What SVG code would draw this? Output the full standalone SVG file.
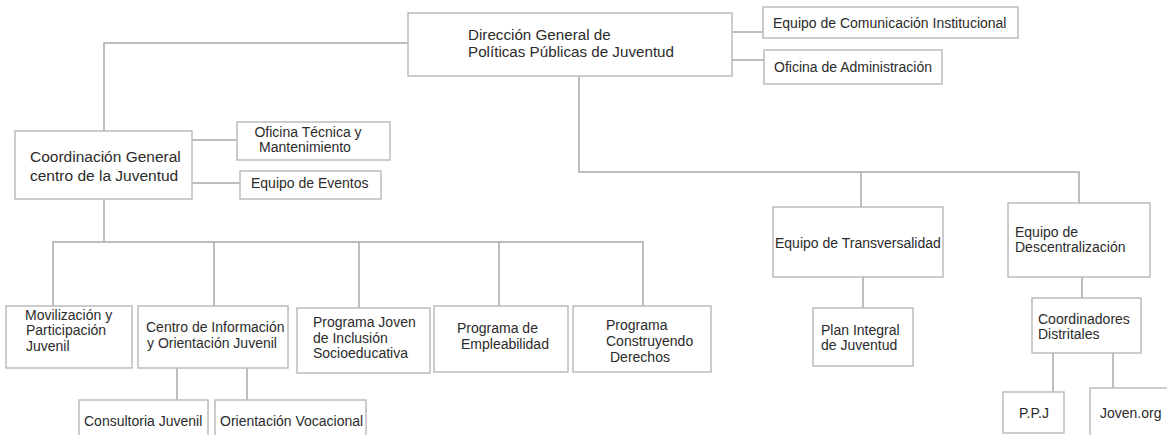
<svg xmlns="http://www.w3.org/2000/svg" width="1167" height="435" viewBox="0 0 1167 435">
<style>
.box{fill:#fff;stroke:#bcbcbc;stroke-width:1.5}
.ln{fill:none;stroke:#a8a8a8;stroke-width:1.5}
text{font-family:"Liberation Sans",Arial,sans-serif;font-size:14px;fill:#2b2b2b}
.big{font-size:15.2px}
.big2{font-size:15.5px}
.mid{text-anchor:middle}
</style>
<rect width="1167" height="435" fill="#fff"/>
<g id="connectors">
<path class="ln" d="M104 131V43H408"/>
<path class="ln" d="M579 76V172H1079V203"/>
<path class="ln" d="M861 172V207"/>
<path class="ln" d="M732 32H763"/>
<path class="ln" d="M732 60H764"/>
<path class="ln" d="M192 140H237"/>
<path class="ln" d="M192 183H240"/>
<path class="ln" d="M104 199V242"/>
<path class="ln" d="M53 306V242H643V306"/>
<path class="ln" d="M214 242V306"/>
<path class="ln" d="M359 242V308"/>
<path class="ln" d="M499 242V306"/>
<path class="ln" d="M177 368V400"/>
<path class="ln" d="M247 368V400"/>
<path class="ln" d="M863 277V308"/>
<path class="ln" d="M1082 277V298"/>
<path class="ln" d="M1053 353V392"/>
<path class="ln" d="M1113 353V388"/>
</g>
<g id="direccion"><rect class="box" x="408" y="13" width="324" height="63"/><text class="big" x="468" y="40">Dirección General de</text><text class="big" x="468" y="57">Políticas Públicas de Juventud</text></g>
<g id="comunicacion"><rect class="box" x="763" y="7" width="255" height="31"/><text x="773" y="28">Equipo de Comunicación Institucional</text></g>
<g id="administracion"><rect class="box" x="764" y="50" width="178" height="34"/><text x="774" y="72">Oficina de Administración</text></g>
<g id="coordinacion"><rect class="box" x="15" y="131" width="177" height="68"/><text class="big2" x="30" y="162">Coordinación General</text><text class="big2" x="30" y="181">centro de la Juventud</text></g>
<g id="oficina-tecnica"><rect class="box" x="237" y="122" width="153" height="38"/><text class="mid" x="308" y="137">Oficina Técnica y</text><text class="mid" x="305" y="152">Mantenimiento</text></g>
<g id="eventos"><rect class="box" x="240" y="171" width="141" height="28"/><text x="251" y="188">Equipo de Eventos</text></g>
<g id="movilizacion"><rect class="box" x="6" y="306" width="126" height="62"/><text x="25" y="320">Movilización y</text><text x="26" y="335">Participación</text><text x="26" y="351">Juvenil</text></g>
<g id="centro-info"><rect class="box" x="138" y="306" width="150" height="62"/><text x="146" y="332">Centro de Información</text><text x="147" y="348">y Orientación Juvenil</text></g>
<g id="consultoria"><rect class="box" x="79" y="400" width="129" height="45"/><text x="84" y="426">Consultoria Juvenil</text></g>
<g id="orientacion"><rect class="box" x="215" y="400" width="151" height="45"/><text x="220" y="426">Orientación Vocacional</text></g>
<g id="programa-joven"><rect class="box" x="297" y="308" width="133" height="65"/><text x="313" y="327">Programa Joven</text><text x="313" y="343">de Inclusión</text><text x="313" y="358">Socioeducativa</text></g>
<g id="empleabilidad"><rect class="box" x="434" y="306" width="134" height="66"/><text x="457" y="333">Programa de</text><text x="461" y="349">Empleabilidad</text></g>
<g id="construyendo"><rect class="box" x="573" y="306" width="138" height="66"/><text x="606" y="330">Programa</text><text x="606" y="346">Construyendo</text><text x="610" y="362">Derechos</text></g>
<g id="transversalidad"><rect class="box" x="773" y="207" width="170" height="70"/><text x="775" y="248">Equipo de Transversalidad</text></g>
<g id="plan-integral"><rect class="box" x="813" y="308" width="100" height="58"/><text x="821" y="335">Plan Integral</text><text x="821" y="350">de Juventud</text></g>
<g id="descentralizacion"><rect class="box" x="1008" y="203" width="142" height="74"/><text x="1015" y="237">Equipo de</text><text x="1015" y="252">Descentralización</text></g>
<g id="coordinadores"><rect class="box" x="1032" y="298" width="109" height="55"/><text x="1038" y="324">Coordinadores</text><text x="1038" y="339">Distritales</text></g>
<g id="ppj"><rect class="box" x="1003" y="392" width="61" height="41"/><text class="mid" x="1034" y="418">P.P.J</text></g>
<g id="joven-org"><rect class="box" x="1090" y="388" width="90" height="60"/><text x="1100" y="418">Joven.org</text></g>
</svg>
